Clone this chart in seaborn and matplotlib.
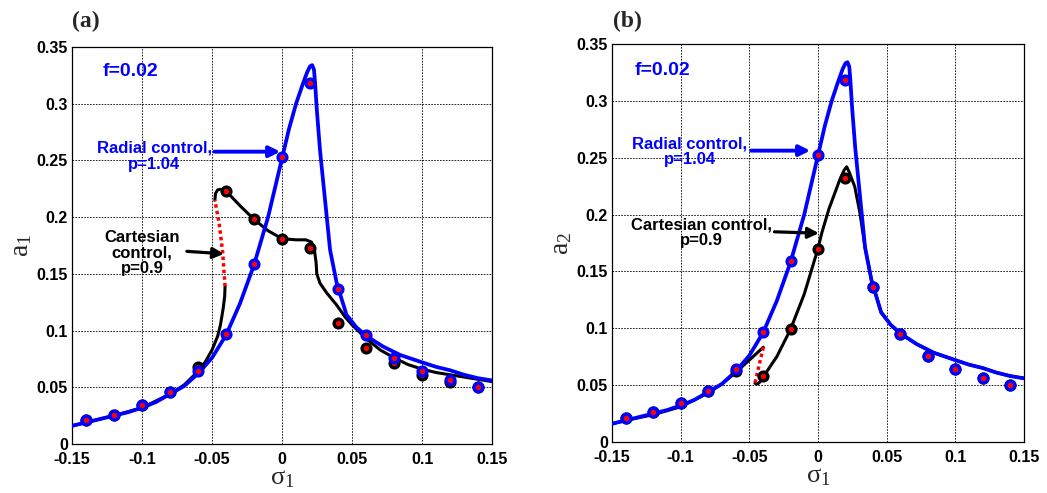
import numpy as np
import pandas as pd
import seaborn as sns
import matplotlib
matplotlib.use("Agg")
import matplotlib.pyplot as plt

sns.set_theme(style="white")
plt.rcParams['font.family'] = ['Liberation Sans', 'DejaVu Sans']
plt.rcParams['mathtext.fontset'] = 'custom'
plt.rcParams['mathtext.rm'] = 'Liberation Serif'
plt.rcParams['mathtext.it'] = 'Liberation Serif'

# ---------------- data ----------------
# sample points (markers)
sig_pts = [-0.14, -0.12, -0.10, -0.08, -0.06, -0.04, -0.02, 0.0, 0.02, 0.04, 0.06, 0.08, 0.10, 0.12, 0.14]
radial_pts_a = [0.021, 0.026, 0.034, 0.046, 0.064, 0.097, 0.159, 0.253, 0.318, 0.137, 0.096, 0.076, 0.064, 0.056, 0.050]
cart_pts_a = [0.021, 0.026, 0.034, 0.046, 0.068, 0.223, 0.198, 0.181, 0.173, 0.107, 0.085, 0.071, 0.061, 0.055, 0.050]
radial_pts_b = [0.021, 0.026, 0.034, 0.045, 0.064, 0.097, 0.159, 0.252, 0.318, 0.136, 0.095, 0.076, 0.064, 0.056, 0.050]
cart_pts_b = [0.021, 0.026, 0.034, 0.045, 0.062, 0.058, 0.099, 0.170, 0.232, 0.136, 0.095, 0.076, 0.064, 0.056, 0.050]

# radial control curve (same in both panels)
rad_x = [-0.15, -0.14, -0.13, -0.12, -0.11, -0.10, -0.09, -0.08, -0.07, -0.06, -0.05, -0.04,
         -0.03, -0.02, -0.01, 0.0, 0.005, 0.01, 0.015, 0.018, 0.020, 0.0215, 0.0228, 0.0236,
         0.0248, 0.0271, 0.0307, 0.0343, 0.039, 0.046, 0.053, 0.0605, 0.072, 0.0843, 0.10,
         0.11, 0.12, 0.13, 0.14, 0.15]
rad_y = [0.016, 0.019, 0.022, 0.025, 0.028, 0.032, 0.037, 0.044, 0.051, 0.062, 0.076, 0.096,
         0.124, 0.158, 0.200, 0.252, 0.278, 0.300, 0.318, 0.328, 0.333, 0.334, 0.330, 0.318,
         0.295, 0.259, 0.215, 0.171, 0.142, 0.114, 0.103, 0.095, 0.086, 0.0785, 0.072,
         0.068, 0.065, 0.061, 0.058, 0.056]

# cartesian control, panel (a)
cart_a_low_x = [-0.15, -0.14, -0.12, -0.10, -0.08, -0.07, -0.06, -0.055, -0.05, -0.046, -0.044, -0.042, -0.041, -0.0407]
cart_a_low_y = [0.016, 0.019, 0.025, 0.032, 0.044, 0.052, 0.064, 0.072, 0.083, 0.095, 0.105, 0.120, 0.130, 0.139]
cart_a_unst_x = [-0.0407, -0.0425, -0.045, -0.048]
cart_a_unst_y = [0.139, 0.170, 0.195, 0.215]
cart_a_up_x = [-0.048, -0.0475, -0.046, -0.044, -0.04, -0.03, -0.02, -0.01, 0.0, 0.01, 0.017, 0.021,
               0.023, 0.0243, 0.0248, 0.0271, 0.032, 0.039, 0.045, 0.05, 0.06, 0.07, 0.08, 0.09,
               0.10, 0.11, 0.12, 0.13, 0.14, 0.15]
cart_a_up_y = [0.215, 0.221, 0.224, 0.2245, 0.223, 0.210, 0.198, 0.188, 0.181, 0.180, 0.180, 0.178,
               0.172, 0.160, 0.150, 0.1417, 0.133, 0.1225, 0.112, 0.105, 0.093, 0.083, 0.076, 0.070,
               0.066, 0.063, 0.061, 0.059, 0.057, 0.055]

# cartesian control, panel (b)
cart_b_low_x = [-0.15, -0.14, -0.12, -0.10, -0.08, -0.07, -0.06, -0.05, -0.0398]
cart_b_low_y = [0.016, 0.019, 0.024, 0.031, 0.043, 0.051, 0.061, 0.072, 0.0833]
cart_b_unst_x = [-0.0398, -0.0459]
cart_b_unst_y = [0.0833, 0.0516]
cart_b_up_x = [-0.0459, -0.044, -0.042, -0.04, -0.03, -0.02, -0.01, 0.0, 0.0027, 0.008, 0.012, 0.016,
               0.019, 0.0209, 0.0225, 0.0268, 0.0306, 0.0343, 0.039, 0.046, 0.053, 0.0605, 0.072,
               0.0843, 0.10, 0.11, 0.12, 0.13, 0.14, 0.15]
cart_b_up_y = [0.0516, 0.051, 0.053, 0.057, 0.075, 0.099, 0.130, 0.170, 0.1835, 0.205, 0.218, 0.231,
               0.239, 0.242, 0.238, 0.2245, 0.201, 0.171, 0.142, 0.114, 0.103, 0.095, 0.086,
               0.0785, 0.072, 0.068, 0.065, 0.061, 0.058, 0.056]

xticks = [-0.15, -0.10, -0.05, 0.0, 0.05, 0.10, 0.15]
xtick_labels = ['-0.15', '-0.1', '-0.05', '0', '0.05', '0.1', '0.15']
yticks = [0.0, 0.05, 0.10, 0.15, 0.20, 0.25, 0.30, 0.35]
ytick_labels = ['0', '0.05', '0.1', '0.15', '0.2', '0.25', '0.3', '0.35']

BLUE = '#0000ff'
RED = '#ff0000'

fig = plt.figure(figsize=(10.47, 4.93), dpi=100)
ax1 = fig.add_axes([0.0688, 0.0994, 0.4012, 0.8053])
ax2 = fig.add_axes([0.5845, 0.1035, 0.3935, 0.8073])


def line(ax, x, y, **kw):
    sns.lineplot(x=x, y=y, sort=False, estimator=None, ax=ax, **kw)


def panel(ax, low, unst, up, cart_pts, rad_pts):
    line(ax, low[0], low[1], color='black', lw=2.2, zorder=3)
    line(ax, up[0], up[1], color='black', lw=2.2, zorder=3)
    line(ax, unst[0], unst[1], color=RED, lw=2.5, linestyle=(0, (1, 0.9)), zorder=3.5)
    line(ax, rad_x, rad_y, color=BLUE, lw=2.7, zorder=4)
    sns.scatterplot(x=sig_pts, y=cart_pts, ax=ax, s=40, color=RED, edgecolor='black',
                    linewidth=2.4, zorder=5)
    sns.scatterplot(x=sig_pts, y=rad_pts, ax=ax, s=40, color=RED, edgecolor=BLUE,
                    linewidth=2.4, zorder=6)
    ax.set_xlim(-0.15, 0.15)
    ax.set_ylim(0, 0.35)
    ax.set_xticks(xticks)
    ax.set_xticklabels(xtick_labels, fontweight='bold', fontsize=11.5)
    ax.set_yticks(yticks)
    ax.set_yticklabels(ytick_labels, fontweight='bold', fontsize=11.5)
    ax.tick_params(direction='in', length=3, width=0.8, colors='black', pad=3)
    ax.tick_params(axis='x', pad=6)
    ax.grid(True, linestyle=(0, (2, 1.5)), color='black', lw=0.6)
    ax.set_axisbelow(True)
    for s in ax.spines.values():
        s.set_color('black')
        s.set_linewidth(0.9)
    ax.set_xlabel(r'$\mathrm{\sigma_1}$', fontsize=19, labelpad=-1)


panel(ax1, (cart_a_low_x, cart_a_low_y), (cart_a_unst_x, cart_a_unst_y),
      (cart_a_up_x, cart_a_up_y), cart_pts_a, radial_pts_a)
panel(ax2, (cart_b_low_x, cart_b_low_y), (cart_b_unst_x, cart_b_unst_y),
      (cart_b_up_x, cart_b_up_y), cart_pts_b, radial_pts_b)

ax1.set_ylabel(r'$\mathrm{a_1}$', fontsize=20, labelpad=2)
ax2.set_ylabel(r'$\mathrm{a_2}$', fontsize=20, labelpad=2)

# annotations panel (a)
ax1.text(-0.1086, 0.328, 'f=0.02', color=BLUE, fontweight='bold', fontsize=14, ha='center', va='center')
ax1.text(-0.0914, 0.2537, 'Radial control,\np=1.04', color=BLUE, fontweight='bold', fontsize=12,
         ha='center', va='center', linespacing=1.05)
ax1.annotate('', xy=(0.0007, 0.2577), xytext=(-0.0502, 0.2577),
             arrowprops=dict(arrowstyle='-|>', color=BLUE, lw=2.8, mutation_scale=16), zorder=7)
ax1.text(-0.100, 0.1683, 'Cartesian\ncontrol,\np=0.9', color='black', fontweight='bold', fontsize=12,
         ha='center', va='center', linespacing=1.05)
ax1.annotate('', xy=(-0.0395, 0.1675), xytext=(-0.070, 0.170),
             arrowprops=dict(arrowstyle='-|>', color='black', lw=2.3, mutation_scale=16), zorder=7)

# annotations panel (b)
ax2.text(-0.1136, 0.327, 'f=0.02', color=BLUE, fontweight='bold', fontsize=14, ha='center', va='center')
ax2.text(-0.0932, 0.2553, 'Radial control,\np=1.04', color=BLUE, fontweight='bold', fontsize=12,
         ha='center', va='center', linespacing=1.05)
ax2.annotate('', xy=(-0.0036, 0.2562), xytext=(-0.0507, 0.2562),
             arrowprops=dict(arrowstyle='-|>', color=BLUE, lw=2.8, mutation_scale=16), zorder=7)
ax2.text(-0.0847, 0.1838, 'Cartesian control,\np=0.9', color='black', fontweight='bold', fontsize=12,
         ha='center', va='center', linespacing=1.05)
ax2.annotate('', xy=(0.0027, 0.1835), xytext=(-0.0337, 0.1849),
             arrowprops=dict(arrowstyle='-|>', color='black', lw=2.3, mutation_scale=16), zorder=7)

fig.text(0.069, 0.957, '(a)', fontfamily='Liberation Serif', fontweight='bold', fontsize=17,
         ha='left', va='center')
fig.text(0.5855, 0.957, '(b)', fontfamily='Liberation Serif', fontweight='bold', fontsize=17,
         ha='left', va='center')

fig.savefig('out.png', dpi=100)
